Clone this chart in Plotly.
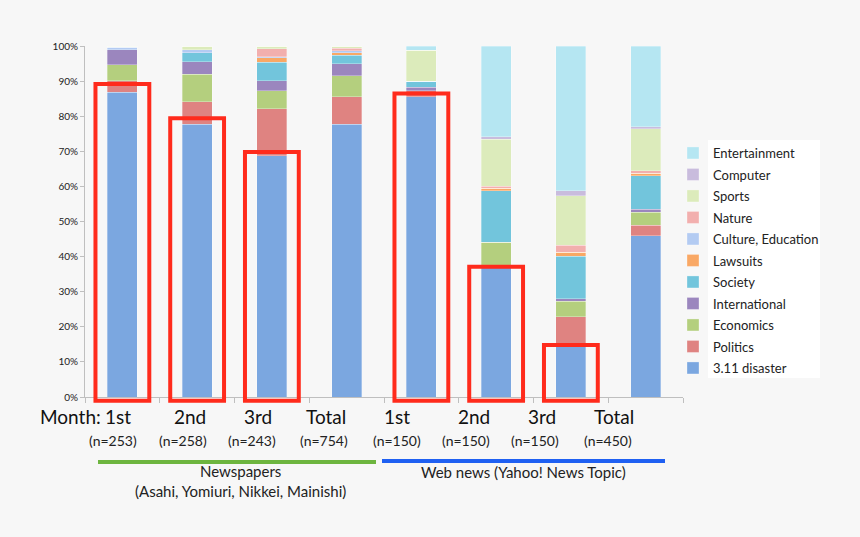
import plotly.graph_objects as go

# ---------------- data ----------------
months = ["1st", "2nd", "3rd", "Total", "1st", "2nd", "3rd", "Total"]
n_labels = ["(n=253)", "(n=258)", "(n=243)", "(n=754)", "(n=150)", "(n=150)", "(n=150)", "(n=450)"]
group_labels = ["Newspapers<br>(Asahi, Yomiuri, Nikkei, Mainishi)", "Web news (Yahoo! News Topic)"]
y_ticks = [0, 10, 20, 30, 40, 50, 60, 70, 80, 90, 100]
y_tick_labels = [f"{v}%" for v in y_ticks]

disaster      = [86.8, 77.7, 68.7, 77.7, 85.6, 37.0, 14.8, 46.0]
politics      = [3.3, 6.4, 13.4, 7.8, 1.7, 0.5, 8.0, 3.0]
economics     = [4.5, 7.8, 5.2, 6.0, 0.0, 6.6, 4.5, 3.6]
international = [4.4, 3.6, 2.8, 3.4, 0.9, 0.0, 0.7, 0.9]
society       = [0.0, 2.6, 5.3, 2.5, 1.7, 14.6, 12.1, 9.5]
lawsuits      = [0.0, 0.0, 1.2, 0.7, 0.0, 0.8, 1.2, 0.7]
culture       = [0.6, 0.8, 0.4, 0.5, 0.0, 0.0, 0.0, 0.0]
nature        = [0.0, 0.0, 2.2, 0.8, 0.0, 0.6, 1.9, 0.8]
sports        = [0.4, 1.1, 0.8, 0.6, 8.9, 13.3, 14.2, 11.9]
computer      = [0.0, 0.0, 0.0, 0.0, 0.0, 0.8, 1.3, 0.6]
entertainment = [0.0, 0.0, 0.0, 0.0, 1.2, 25.8, 41.3, 23.0]

# highlighted bars: top of red box (percent), None = no box
box_tops = [89.2, 79.4, 69.8, None, 86.5, 37.1, 14.8, None]

series = [
    ("3.11 disaster", disaster, "#7BA7E0"),
    ("Politics", politics, "#DF8381"),
    ("Economics", economics, "#B4CF7E"),
    ("International", international, "#9B86BE"),
    ("Society", society, "#72C5DC"),
    ("Lawsuits", lawsuits, "#F9A865"),
    ("Culture, Education", culture, "#B3CBF2"),
    ("Nature", nature, "#F2AFAE"),
    ("Sports", sports, "#DCEBBB"),
    ("Computer", computer, "#C9BCDD"),
    ("Entertainment", entertainment, "#B5E6F2"),
]

# ---------------- layout helpers ----------------
W, H = 860, 537
ML, MR, MT, MB = 85, 177, 46, 140
PW, PH = W - ML - MR, H - MT - MB


def px(x):
    return (x - ML) / PW


def py(y):
    return (H - MB - y) / PH


FONT = "Lato, 'Noto Sans', sans-serif"
xs = list(range(len(months)))

fig = go.Figure()
for k, (name, vals, col) in enumerate(series):
    fig.add_trace(go.Bar(
        x=xs, y=vals, name=name, legendgroup=name,
        legendrank=1000 - 10 * k,
        marker=dict(color=col, line=dict(color="rgba(255,255,255,0.6)", width=0.5)),
    ))

shapes = []
# white legend panel
shapes.append(dict(type="rect", xref="paper", yref="paper", layer="below",
                   x0=px(708), x1=px(820), y0=py(378), y1=py(140),
                   line=dict(width=0), fillcolor="white"))
for i, top in enumerate(box_tops):
    if top is None:
        continue
    shapes.append(dict(type="rect", xref="x", yref="paper",
                       x0=i - 0.36, x1=i + 0.36, y0=-0.011, y1=top / 100,
                       line=dict(color="#FF2B1C", width=4), fillcolor="rgba(0,0,0,0)"))

# brush strokes under group names
shapes.append(dict(type="line", xref="paper", yref="paper",
                   x0=px(98), x1=px(376), y0=py(462), y1=py(462),
                   line=dict(color="#6DB53F", width=4)))
shapes.append(dict(type="line", xref="paper", yref="paper",
                   x0=px(382), x1=px(665), y0=py(461), y1=py(461),
                   line=dict(color="#1F60F2", width=4)))

annotations = []
month_px = [118, 190, 258, 326, 397, 474, 542, 614]
n_px = [113, 183, 252, 324, 397, 466, 535, 608]
for m, x in zip(months, month_px):
    annotations.append(dict(text=m, x=px(x), y=py(416), xref="paper", yref="paper",
                            showarrow=False, xanchor="center", yanchor="middle",
                            font=dict(family=FONT, size=19, color="#111")))
annotations.append(dict(text="Month:", x=px(103), y=py(416), xref="paper", yref="paper",
                        showarrow=False, xanchor="right", yanchor="middle",
                        font=dict(family=FONT, size=19, color="#111")))
for t, x in zip(n_labels, n_px):
    annotations.append(dict(text=t, x=px(x), y=py(440), xref="paper", yref="paper",
                            showarrow=False, xanchor="center", yanchor="middle",
                            font=dict(family=FONT, size=14, color="#222")))
annotations.append(dict(text=group_labels[0], x=px(240), y=py(481), xref="paper", yref="paper",
                        showarrow=False, xanchor="center", yanchor="middle",
                        font=dict(family=FONT, size=15, color="#222")))
annotations.append(dict(text=group_labels[1], x=px(523), y=py(472), xref="paper", yref="paper",
                        showarrow=False, xanchor="center", yanchor="middle",
                        font=dict(family=FONT, size=15, color="#222")))

fig.update_layout(
    width=W, height=H,
    margin=dict(l=ML, r=MR, t=MT, b=MB, autoexpand=False),
    paper_bgcolor="#F7F7F7", plot_bgcolor="#F7F7F7",
    barmode="stack", bargap=0.6,
    font=dict(family=FONT, color="#222"),
    showlegend=True,
    legend=dict(traceorder="grouped", tracegroupgap=1.6,
                x=px(673), y=py(138), xanchor="left", yanchor="top",
                bgcolor="rgba(0,0,0,0)", font=dict(family=FONT, size=13, color="#222"),
                itemclick=False),
    xaxis=dict(range=[-0.5, 7.5], showgrid=False, zeroline=False, showline=True,
               linecolor="#BFBFBF", linewidth=1, ticks="outside", ticklen=5,
               tickcolor="#BFBFBF", tickvals=[i - 0.5 for i in range(9)],
               showticklabels=False, fixedrange=True),
    yaxis=dict(range=[0, 100], showgrid=False, zeroline=False, showline=True,
               linecolor="#BFBFBF", linewidth=1, ticks="outside", ticklen=4,
               tickcolor="#BFBFBF", tickvals=y_ticks, ticktext=y_tick_labels,
               tickfont=dict(family=FONT, size=10, color="#222"), fixedrange=True),
    shapes=shapes, annotations=annotations,
)

fig.write_html("out.html", config={"displayModeBar": False},
               post_script="document.body.style.margin='0';")
